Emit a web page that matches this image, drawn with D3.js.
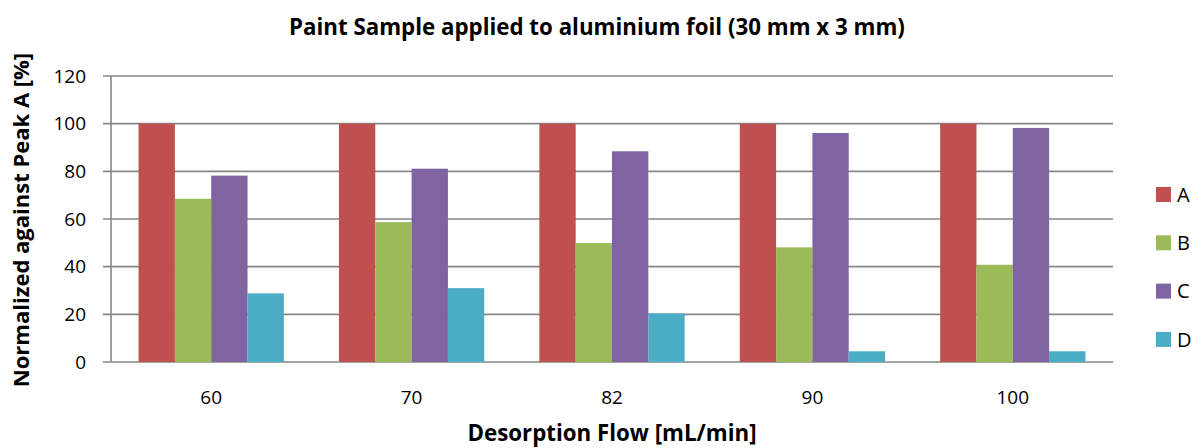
<!DOCTYPE html>
<html><head><meta charset="utf-8">
<script src="https://cdn.jsdelivr.net/npm/d3@7"></script>
<style>body{margin:0;background:#fff}text{font-family:"Open Sans",sans-serif;fill:#000}</style>
</head><body><svg id="c" width="1195" height="448"></svg>
<script>
const categories = ["60","70","82","90","100"];
const seriesNames = ["A","B","C","D"];
const seriesA = [100,100,100,100,100];
const seriesB = [68.5,58.7,49.9,48.1,40.8];
const seriesC = [78.2,81.1,88.4,96.1,98.2];
const seriesD = [28.8,31.0,20.4,4.5,4.5];
const yTicks = [0,20,40,60,80,100,120];
const colors = ["#C0504D","#9BBB59","#8064A2","#4BACC6"];

const all = [seriesA,seriesB,seriesC,seriesD];
const svg = d3.select("#c");
const L=111, R=1113, T=76, B=362;
const x = d3.scaleBand().domain(categories).range([L,R]).paddingInner(0.275).paddingOuter(0.1375);
const xs = d3.scaleBand().domain(seriesNames).range([0,x.bandwidth()]);
const y = d3.scaleLinear().domain([0,120]).range([B,T]);

svg.append("g").selectAll("line").data(yTicks).join("line")
 .attr("x1",L-8).attr("x2",R).attr("y1",d=>y(d)).attr("y2",d=>y(d))
 .attr("stroke","#878787").attr("stroke-width",1.6);
svg.append("line").attr("x1",L).attr("x2",L).attr("y1",T).attr("y2",B).attr("stroke","#878787").attr("stroke-width",1.6);

categories.forEach((c,i)=>{
  seriesNames.forEach((s,j)=>{
    const v = all[j][i];
    svg.append("rect").attr("x",x(c)+xs(s)).attr("width",xs.bandwidth())
      .attr("y",y(v)).attr("height",y(0)-y(v)).attr("fill",colors[j]);
  });
});

svg.append("g").selectAll("text").data(yTicks).join("text")
 .attr("x",86).attr("y",d=>y(d)).attr("dy","0.35em").attr("text-anchor","end")
 .attr("font-size",19).text(d=>d);
svg.append("g").selectAll("text").data(categories).join("text")
 .attr("x",d=>x(d)+x.bandwidth()/2).attr("y",404).attr("text-anchor","middle")
 .attr("font-size",19).text(d=>d);

svg.append("text").attr("x",597).attr("y",35).attr("text-anchor","middle")
 .attr("font-size",22.3).attr("font-weight","bold").text("Paint Sample applied to aluminium foil (30 mm x 3 mm)");
svg.append("text").attr("x",612).attr("y",441).attr("text-anchor","middle")
 .attr("font-size",22.3).attr("font-weight","bold").text("Desorption Flow [mL/min]");
svg.append("text").attr("transform","translate(29,220) rotate(-90)").attr("text-anchor","middle")
 .attr("font-size",22).attr("font-weight","bold").text("Normalized against Peak A [%]");

const lg = svg.append("g").selectAll("g").data(seriesNames).join("g")
 .attr("transform",(d,i)=>`translate(1156,${187+i*48.3})`);
lg.append("rect").attr("width",15).attr("height",15).attr("fill",(d,i)=>colors[i]);
lg.append("text").attr("x",21).attr("y",7.5).attr("dy","0.36em").attr("font-size",20).text(d=>d);
</script></body></html>
